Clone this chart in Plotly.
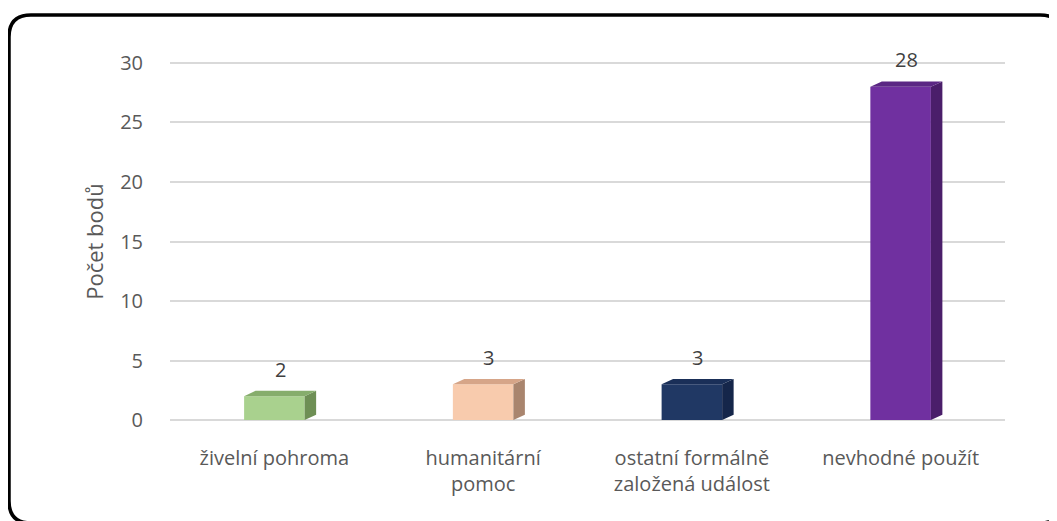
import plotly.graph_objects as go

# ---- data ----
categories = ["živelní pohroma", "humanitární<br>pomoc", "ostatní formálně<br>založená událost", "nevhodné použít"]
values = [2, 3, 3, 28]
front_colors = ["#A9D18E", "#F8CBAD", "#203864", "#7030A0"]
side_colors = ["#6E8F55", "#A9856E", "#15264A", "#4A1E6A"]
top_colors = ["#86AD6C", "#D6A588", "#1A2F58", "#5B2784"]
y_ticks = [0, 5, 10, 15, 20, 25, 30]
y_title = "Počet bodů"

W, H = 1057, 521
OFF = 8  # page body margin
L, R, T, B = 162, 60, 52, 106
PW, PH = W - L - R, H - T - B
YPAD = 0.25

bar_w = 0.29
dx = 0.055      # depth offset in category units
dy = 0.45       # depth offset in value units

xs = list(range(len(categories)))
fig = go.Figure()

fig.add_trace(go.Bar(x=xs, y=values, width=bar_w, marker=dict(color=front_colors, line=dict(width=0)),
                     hoverinfo="skip", showlegend=False))

for i, v in enumerate(values):
    xl, xr = i - bar_w / 2, i + bar_w / 2
    fig.add_trace(go.Scatter(x=[xr, xr + dx, xr + dx, xr, xr], y=[0, dy, v + dy, v, 0],
                             mode="lines", fill="toself", fillcolor=side_colors[i],
                             line=dict(width=0, color=side_colors[i]), hoverinfo="skip", showlegend=False))
    fig.add_trace(go.Scatter(x=[xl, xl + dx, xr + dx, xr, xl], y=[v, v + dy, v + dy, v, v],
                             mode="lines", fill="toself", fillcolor=top_colors[i],
                             line=dict(width=0, color=top_colors[i]), hoverinfo="skip", showlegend=False))
    fig.add_annotation(x=i + dx / 2, y=v + dy, text=str(v), showarrow=False, yanchor="bottom", yshift=6,
                       font=dict(size=20, color="#404040", family="Open Sans"))

def px(xp):
    return (xp - L) / PW

def py(yp):
    return (H - B - yp) / PH

x0, x1, y0, y1, r = 9 - OFF, 1062 - OFF, 15 - OFF, 523 - OFF, 22
path = (f"M {px(x0 + r)},{py(y0)} L {px(x1 - r)},{py(y0)} Q {px(x1)},{py(y0)} {px(x1)},{py(y0 + r)} "
        f"L {px(x1)},{py(y1 - r)} Q {px(x1)},{py(y1)} {px(x1 - r)},{py(y1)} "
        f"L {px(x0 + r)},{py(y1)} Q {px(x0)},{py(y1)} {px(x0)},{py(y1 - r)} "
        f"L {px(x0)},{py(y0 + r)} Q {px(x0)},{py(y0)} {px(x0 + r)},{py(y0)} Z")
fig.add_shape(type="path", path=path, xref="paper", yref="paper", line=dict(color="black", width=3.5))

fig.update_layout(
    width=W, height=H,
    margin=dict(l=L, r=R, t=T, b=B),
    paper_bgcolor="white", plot_bgcolor="white",
    font=dict(family="Open Sans", color="#595959", size=20),
    xaxis=dict(tickmode="array", tickvals=xs, ticktext=categories, range=[-0.5, 3.5],
               showgrid=False, zeroline=False, showline=False,
               ticks="outside", ticklen=17, tickcolor="rgba(0,0,0,0)",
               tickfont=dict(size=20, color="#595959")),
    yaxis=dict(range=[-YPAD, 30 + YPAD], tickvals=y_ticks, showgrid=True, gridcolor="#D9D9D9", gridwidth=2,
               zeroline=False, showline=False, ticks="outside", ticklen=22, tickcolor="rgba(0,0,0,0)",
               tickfont=dict(size=20, color="#595959"),
               title=dict(text=y_title, font=dict(size=22, color="#595959"), standoff=10)),
    bargap=0.5,
)

fig.write_html("out.html")
